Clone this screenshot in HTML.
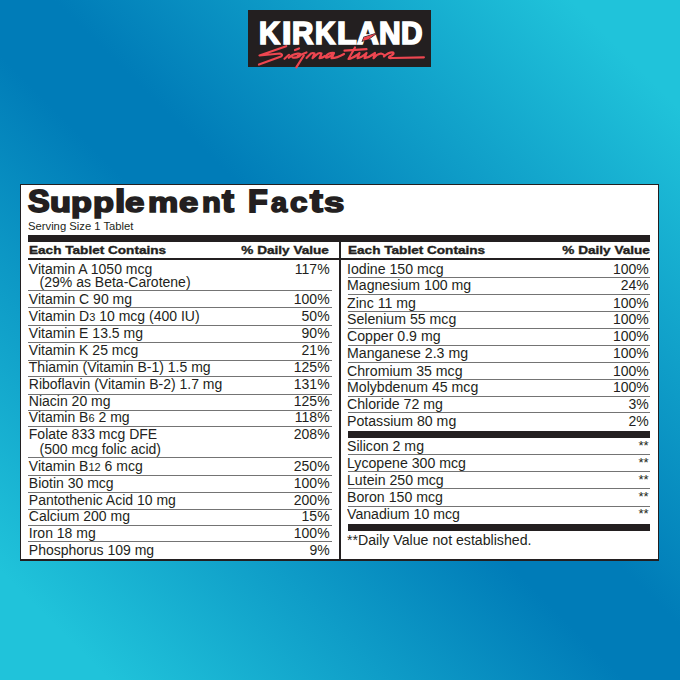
<!DOCTYPE html>
<html><head><meta charset="utf-8"><style>
html,body{margin:0;padding:0;width:680px;height:680px;overflow:hidden}
body{position:relative;background:linear-gradient(45deg,#20c3da 0%,#20c3da 8%,#007cb8 46%,#007cb8 54%,#20c3da 92%,#20c3da 100%);font-family:"Liberation Sans",sans-serif;color:#231f20}
.t{position:absolute;white-space:pre;line-height:1}
.r{position:absolute}
</style></head><body>

<div class="r" style="left:248px;top:10px;width:183px;height:57px;background:#231f20"></div>
<div class="t" style="left:259.09px;top:18.28px;font-size:30.5px;font-weight:bold;color:#fff;-webkit-text-stroke:1.7px #fff;transform:scaleX(0.954);transform-origin:0 0">K</div>
<div class="t" style="left:281.85px;top:18.28px;font-size:30.5px;font-weight:bold;color:#fff;-webkit-text-stroke:1.7px #fff;transform:scaleX(1.108);transform-origin:0 0">I</div>
<div class="t" style="left:291.68px;top:18.28px;font-size:30.5px;font-weight:bold;color:#fff;-webkit-text-stroke:1.7px #fff;transform:scaleX(0.973);transform-origin:0 0">R</div>
<div class="t" style="left:315.32px;top:18.28px;font-size:30.5px;font-weight:bold;color:#fff;-webkit-text-stroke:1.7px #fff;transform:scaleX(0.923);transform-origin:0 0">K</div>
<div class="t" style="left:337.30px;top:18.28px;font-size:30.5px;font-weight:bold;color:#fff;-webkit-text-stroke:1.7px #fff;transform:scaleX(1.055);transform-origin:0 0">L</div>
<div class="t" style="left:357.28px;top:18.28px;font-size:30.5px;font-weight:bold;color:#fff;-webkit-text-stroke:1.7px #fff;transform:scaleX(0.986);transform-origin:0 0">A</div>
<div class="t" style="left:378.57px;top:18.28px;font-size:30.5px;font-weight:bold;color:#fff;-webkit-text-stroke:1.7px #fff;transform:scaleX(0.983);transform-origin:0 0">N</div>
<div class="t" style="left:401.37px;top:18.28px;font-size:30.5px;font-weight:bold;color:#fff;-webkit-text-stroke:1.7px #fff;transform:scaleX(0.977);transform-origin:0 0">D</div>
<svg class="r" style="left:0;top:0" width="680" height="80" viewBox="0 0 680 80">
<g fill="none" stroke="#ee4650" stroke-width="2.2" stroke-linecap="round" stroke-linejoin="round">
<path d="M286.2,46.2 L259.5,55.5 L280,53.5 Q283.5,54.5 281,56.5 L259,64.5"/>
<path d="M284.5,58.8 L289,54.8"/>
<path d="M295,50 L299,48.4"/>
<path d="M288.8,57.8 Q293,54 297.7,53.7 Q302,53.4 299.5,56.3 Q296,58.2 292.5,57.5"/>
<path d="M297.7,56 L306.5,52.4"/>
<path d="M303.8,55.5 L296.3,67.4"/>
<path d="M306.5,58 L311,53.5 Q313,52.5 314.5,53.5 L312.5,58.2 L318,53.5 Q320,52.5 321.5,53.5 L319.5,58.2 Q322,58 325,56"/>
<path d="M334,53 Q328.5,52.5 325.8,56.5 Q325.5,59 330.5,56 L334,53 L331.5,58.2 Q337,58 344,54"/>
<path d="M355,47.5 L348.5,59 Q352,58.5 357,55"/>
<path d="M344.5,50.6 L366.5,49.2"/>
<path d="M357,55 L359.5,53 L357.5,58.2 Q361,58 366.5,53 L364.5,58.2 Q368,58 372,55"/>
<path d="M372,55 L375,53 L373.5,58.2 Q377,54 381,53.5 Q383,54 384,55"/>
<path d="M384,56.5 Q389,52 393,52.5 Q395,54 389.5,56.5 Q387.5,58.5 392,58 L423.9,57.3"/>
</g>
<path d="M362.5,41 L364,37.2 L376.5,33.2 L368.5,39.3 Z" fill="#ee4650" stroke="#231f20" stroke-width="1.2" paint-order="stroke"/>
</svg>

<div class="r" style="left:20px;top:184px;width:637px;height:374px;background:#fff;border:1px solid #231f20;border-bottom-width:2px"></div>
<div class="t" style="left:27.90px;top:185.98px;font-size:30.5px;font-weight:bold;-webkit-text-stroke:1.8px #231f20;transform:scale(1.067,1.0);transform-origin:0 25.82px">S</div>
<div class="t" style="left:50.17px;top:185.98px;font-size:30.5px;font-weight:bold;-webkit-text-stroke:1.8px #231f20;transform:scale(1.127,0.88);transform-origin:0 25.82px">u</div>
<div class="t" style="left:71.16px;top:185.98px;font-size:30.5px;font-weight:bold;-webkit-text-stroke:1.8px #231f20;transform:scale(1.121,0.88);transform-origin:0 25.82px">p</div>
<div class="t" style="left:93.15px;top:185.98px;font-size:30.5px;font-weight:bold;-webkit-text-stroke:1.8px #231f20;transform:scale(1.127,0.88);transform-origin:0 25.82px">p</div>
<div class="t" style="left:115.06px;top:185.98px;font-size:30.5px;font-weight:bold;-webkit-text-stroke:1.8px #231f20;transform:scale(1.220,1.0);transform-origin:0 25.82px">l</div>
<div class="t" style="left:125.16px;top:185.98px;font-size:30.5px;font-weight:bold;-webkit-text-stroke:1.8px #231f20;transform:scale(1.142,0.88);transform-origin:0 25.82px">e</div>
<div class="t" style="left:147.99px;top:185.98px;font-size:30.5px;font-weight:bold;-webkit-text-stroke:1.8px #231f20;transform:scale(1.114,0.88);transform-origin:0 25.82px">m</div>
<div class="t" style="left:178.86px;top:185.98px;font-size:30.5px;font-weight:bold;-webkit-text-stroke:1.8px #231f20;transform:scale(1.135,0.88);transform-origin:0 25.82px">e</div>
<div class="t" style="left:201.89px;top:185.98px;font-size:30.5px;font-weight:bold;-webkit-text-stroke:1.8px #231f20;transform:scale(1.012,0.88);transform-origin:0 25.82px">n</div>
<div class="t" style="left:222.30px;top:185.98px;font-size:30.5px;font-weight:bold;-webkit-text-stroke:1.8px #231f20;transform:scale(1.171,1.0);transform-origin:0 25.82px">t</div>
<div class="t" style="left:248.04px;top:185.98px;font-size:30.5px;font-weight:bold;-webkit-text-stroke:1.8px #231f20;transform:scale(1.057,1.0);transform-origin:0 25.82px">F</div>
<div class="t" style="left:271.20px;top:185.98px;font-size:30.5px;font-weight:bold;-webkit-text-stroke:1.8px #231f20;transform:scale(0.951,0.88);transform-origin:0 25.82px">a</div>
<div class="t" style="left:290.37px;top:185.98px;font-size:30.5px;font-weight:bold;-webkit-text-stroke:1.8px #231f20;transform:scale(1.026,0.88);transform-origin:0 25.82px">c</div>
<div class="t" style="left:310.00px;top:185.98px;font-size:30.5px;font-weight:bold;-webkit-text-stroke:1.8px #231f20;transform:scale(1.257,1.0);transform-origin:0 25.82px">t</div>
<div class="t" style="left:323.81px;top:185.98px;font-size:30.5px;font-weight:bold;-webkit-text-stroke:1.8px #231f20;transform:scale(1.194,0.88);transform-origin:0 25.82px">s</div>
<div class="t" style="left:28.20px;top:220.57px;font-size:11.5px;font-weight:normal;transform:scaleX(0.978);transform-origin:0 0;">Serving Size 1 Tablet</div>
<div class="r" style="left:28px;top:235px;width:622px;height:7px;background:#231f20;"></div>
<div class="t" style="left:28.80px;top:245.19px;font-size:11px;font-weight:bold;transform:scaleX(1.235);transform-origin:0 0;-webkit-text-stroke:0.35px #231f20;">Each Tablet Contains</div>
<div class="t" style="right:350.70px;top:245.19px;font-size:11px;font-weight:bold;text-align:right;transform:scaleX(1.235);transform-origin:100% 0;-webkit-text-stroke:0.35px #231f20;">% Daily Value</div>
<div class="t" style="left:347.80px;top:245.19px;font-size:11px;font-weight:bold;transform:scaleX(1.235);transform-origin:0 0;-webkit-text-stroke:0.35px #231f20;">Each Tablet Contains</div>
<div class="t" style="right:29.70px;top:245.19px;font-size:11px;font-weight:bold;text-align:right;transform:scaleX(1.235);transform-origin:100% 0;-webkit-text-stroke:0.35px #231f20;">% Daily Value</div>
<div class="r" style="left:28px;top:258px;width:622px;height:2px;background:#231f20;"></div>
<div class="r" style="left:339px;top:241px;width:2px;height:318px;background:#231f20;"></div>
<div class="t" style="left:28.80px;top:262.35px;font-size:14px;font-weight:normal;transform:scaleX(1.0);transform-origin:0 0;">Vitamin A 1050 mcg</div>
<div class="t" style="left:39.60px;top:275.05px;font-size:14px;font-weight:normal;transform:scaleX(1.0);transform-origin:0 0;">(29% as Beta-Carotene)</div>
<div class="t" style="right:350.40px;top:262.35px;font-size:14px;font-weight:normal;text-align:right;transform:scaleX(1.0);transform-origin:100% 0;">117%</div>
<div class="t" style="left:28.80px;top:291.85px;font-size:14px;font-weight:normal;transform:scaleX(1.0);transform-origin:0 0;">Vitamin C 90 mg</div>
<div class="t" style="right:350.40px;top:291.85px;font-size:14px;font-weight:normal;text-align:right;transform:scaleX(1.0);transform-origin:100% 0;">100%</div>
<div class="t" style="left:28.80px;top:308.95px;font-size:14px;font-weight:normal;transform:scaleX(1.0);transform-origin:0 0;">Vitamin D<span style="font-size:11px">3</span> 10 mcg (400 IU)</div>
<div class="t" style="right:350.40px;top:308.95px;font-size:14px;font-weight:normal;text-align:right;transform:scaleX(1.0);transform-origin:100% 0;">50%</div>
<div class="t" style="left:28.80px;top:326.35px;font-size:14px;font-weight:normal;transform:scaleX(1.0);transform-origin:0 0;">Vitamin E 13.5 mg</div>
<div class="t" style="right:350.40px;top:326.35px;font-size:14px;font-weight:normal;text-align:right;transform:scaleX(1.0);transform-origin:100% 0;">90%</div>
<div class="t" style="left:28.80px;top:343.25px;font-size:14px;font-weight:normal;transform:scaleX(1.0);transform-origin:0 0;">Vitamin K 25 mcg</div>
<div class="t" style="right:350.40px;top:343.25px;font-size:14px;font-weight:normal;text-align:right;transform:scaleX(1.0);transform-origin:100% 0;">21%</div>
<div class="t" style="left:28.80px;top:359.75px;font-size:14px;font-weight:normal;transform:scaleX(1.0);transform-origin:0 0;">Thiamin (Vitamin B-1) 1.5 mg</div>
<div class="t" style="right:350.40px;top:359.75px;font-size:14px;font-weight:normal;text-align:right;transform:scaleX(1.0);transform-origin:100% 0;">125%</div>
<div class="t" style="left:28.80px;top:376.65px;font-size:14px;font-weight:normal;transform:scaleX(1.0);transform-origin:0 0;">Riboflavin (Vitamin B-2) 1.7 mg</div>
<div class="t" style="right:350.40px;top:376.65px;font-size:14px;font-weight:normal;text-align:right;transform:scaleX(1.0);transform-origin:100% 0;">131%</div>
<div class="t" style="left:28.80px;top:393.55px;font-size:14px;font-weight:normal;transform:scaleX(1.0);transform-origin:0 0;">Niacin 20 mg</div>
<div class="t" style="right:350.40px;top:393.55px;font-size:14px;font-weight:normal;text-align:right;transform:scaleX(1.0);transform-origin:100% 0;">125%</div>
<div class="t" style="left:28.80px;top:410.45px;font-size:14px;font-weight:normal;transform:scaleX(1.0);transform-origin:0 0;">Vitamin B<span style="font-size:11px">6</span> 2 mg</div>
<div class="t" style="right:350.40px;top:410.45px;font-size:14px;font-weight:normal;text-align:right;transform:scaleX(1.0);transform-origin:100% 0;">118%</div>
<div class="t" style="left:28.80px;top:427.45px;font-size:14px;font-weight:normal;transform:scaleX(1.0);transform-origin:0 0;">Folate 833 mcg DFE</div>
<div class="t" style="left:39.60px;top:442.25px;font-size:14px;font-weight:normal;transform:scaleX(1.0);transform-origin:0 0;">(500 mcg folic acid)</div>
<div class="t" style="right:350.40px;top:427.45px;font-size:14px;font-weight:normal;text-align:right;transform:scaleX(1.0);transform-origin:100% 0;">208%</div>
<div class="t" style="left:28.80px;top:459.15px;font-size:14px;font-weight:normal;transform:scaleX(1.0);transform-origin:0 0;">Vitamin B<span style="font-size:11px">12</span> 6 mcg</div>
<div class="t" style="right:350.40px;top:459.15px;font-size:14px;font-weight:normal;text-align:right;transform:scaleX(1.0);transform-origin:100% 0;">250%</div>
<div class="t" style="left:28.80px;top:475.95px;font-size:14px;font-weight:normal;transform:scaleX(1.0);transform-origin:0 0;">Biotin 30 mcg</div>
<div class="t" style="right:350.40px;top:475.95px;font-size:14px;font-weight:normal;text-align:right;transform:scaleX(1.0);transform-origin:100% 0;">100%</div>
<div class="t" style="left:28.80px;top:492.65px;font-size:14px;font-weight:normal;transform:scaleX(1.0);transform-origin:0 0;">Pantothenic Acid 10 mg</div>
<div class="t" style="right:350.40px;top:492.65px;font-size:14px;font-weight:normal;text-align:right;transform:scaleX(1.0);transform-origin:100% 0;">200%</div>
<div class="t" style="left:28.80px;top:509.15px;font-size:14px;font-weight:normal;transform:scaleX(1.0);transform-origin:0 0;">Calcium 200 mg</div>
<div class="t" style="right:350.40px;top:509.15px;font-size:14px;font-weight:normal;text-align:right;transform:scaleX(1.0);transform-origin:100% 0;">15%</div>
<div class="t" style="left:28.80px;top:525.85px;font-size:14px;font-weight:normal;transform:scaleX(1.0);transform-origin:0 0;">Iron 18 mg</div>
<div class="t" style="right:350.40px;top:525.85px;font-size:14px;font-weight:normal;text-align:right;transform:scaleX(1.0);transform-origin:100% 0;">100%</div>
<div class="t" style="left:28.80px;top:542.85px;font-size:14px;font-weight:normal;transform:scaleX(1.0);transform-origin:0 0;">Phosphorus 109 mg</div>
<div class="t" style="right:350.40px;top:542.85px;font-size:14px;font-weight:normal;text-align:right;transform:scaleX(1.0);transform-origin:100% 0;">9%</div>
<div class="r" style="left:28px;top:290px;width:304px;height:1px;background:#747474;"></div>
<div class="r" style="left:28px;top:307px;width:304px;height:1px;background:#747474;"></div>
<div class="r" style="left:28px;top:325px;width:304px;height:1px;background:#747474;"></div>
<div class="r" style="left:28px;top:342px;width:304px;height:1px;background:#747474;"></div>
<div class="r" style="left:28px;top:360px;width:304px;height:1px;background:#747474;"></div>
<div class="r" style="left:28px;top:376px;width:304px;height:1px;background:#747474;"></div>
<div class="r" style="left:28px;top:394px;width:304px;height:1px;background:#747474;"></div>
<div class="r" style="left:28px;top:410px;width:304px;height:1px;background:#747474;"></div>
<div class="r" style="left:28px;top:426px;width:304px;height:1px;background:#747474;"></div>
<div class="r" style="left:28px;top:457px;width:304px;height:1px;background:#747474;"></div>
<div class="r" style="left:28px;top:475px;width:304px;height:1px;background:#747474;"></div>
<div class="r" style="left:28px;top:492px;width:304px;height:1px;background:#747474;"></div>
<div class="r" style="left:28px;top:509px;width:304px;height:1px;background:#747474;"></div>
<div class="r" style="left:28px;top:525px;width:304px;height:1px;background:#747474;"></div>
<div class="r" style="left:28px;top:541px;width:304px;height:1px;background:#747474;"></div>
<div class="t" style="left:346.90px;top:262.05px;font-size:14px;font-weight:normal;transform:scaleX(1.01);transform-origin:0 0;">Iodine 150 mcg</div>
<div class="t" style="right:31.20px;top:262.05px;font-size:14px;font-weight:normal;text-align:right;transform:scaleX(1.0);transform-origin:100% 0;">100%</div>
<div class="t" style="left:346.90px;top:278.35px;font-size:14px;font-weight:normal;transform:scaleX(1.01);transform-origin:0 0;">Magnesium 100 mg</div>
<div class="t" style="right:31.20px;top:278.35px;font-size:14px;font-weight:normal;text-align:right;transform:scaleX(1.0);transform-origin:100% 0;">24%</div>
<div class="t" style="left:346.90px;top:295.55px;font-size:14px;font-weight:normal;transform:scaleX(1.01);transform-origin:0 0;">Zinc 11 mg</div>
<div class="t" style="right:31.20px;top:295.55px;font-size:14px;font-weight:normal;text-align:right;transform:scaleX(1.0);transform-origin:100% 0;">100%</div>
<div class="t" style="left:346.90px;top:312.45px;font-size:14px;font-weight:normal;transform:scaleX(1.01);transform-origin:0 0;">Selenium 55 mcg</div>
<div class="t" style="right:31.20px;top:312.45px;font-size:14px;font-weight:normal;text-align:right;transform:scaleX(1.0);transform-origin:100% 0;">100%</div>
<div class="t" style="left:346.90px;top:329.35px;font-size:14px;font-weight:normal;transform:scaleX(1.01);transform-origin:0 0;">Copper 0.9 mg</div>
<div class="t" style="right:31.20px;top:329.35px;font-size:14px;font-weight:normal;text-align:right;transform:scaleX(1.0);transform-origin:100% 0;">100%</div>
<div class="t" style="left:346.90px;top:346.15px;font-size:14px;font-weight:normal;transform:scaleX(1.01);transform-origin:0 0;">Manganese 2.3 mg</div>
<div class="t" style="right:31.20px;top:346.15px;font-size:14px;font-weight:normal;text-align:right;transform:scaleX(1.0);transform-origin:100% 0;">100%</div>
<div class="t" style="left:346.90px;top:363.55px;font-size:14px;font-weight:normal;transform:scaleX(1.01);transform-origin:0 0;">Chromium 35 mcg</div>
<div class="t" style="right:31.20px;top:363.55px;font-size:14px;font-weight:normal;text-align:right;transform:scaleX(1.0);transform-origin:100% 0;">100%</div>
<div class="t" style="left:346.90px;top:380.05px;font-size:14px;font-weight:normal;transform:scaleX(1.01);transform-origin:0 0;">Molybdenum 45 mcg</div>
<div class="t" style="right:31.20px;top:380.05px;font-size:14px;font-weight:normal;text-align:right;transform:scaleX(1.0);transform-origin:100% 0;">100%</div>
<div class="t" style="left:346.90px;top:397.05px;font-size:14px;font-weight:normal;transform:scaleX(1.01);transform-origin:0 0;">Chloride 72 mg</div>
<div class="t" style="right:31.20px;top:397.05px;font-size:14px;font-weight:normal;text-align:right;transform:scaleX(1.0);transform-origin:100% 0;">3%</div>
<div class="t" style="left:346.90px;top:413.85px;font-size:14px;font-weight:normal;transform:scaleX(1.01);transform-origin:0 0;">Potassium 80 mg</div>
<div class="t" style="right:31.20px;top:413.85px;font-size:14px;font-weight:normal;text-align:right;transform:scaleX(1.0);transform-origin:100% 0;">2%</div>
<div class="r" style="left:348px;top:277px;width:302px;height:1px;background:#747474;"></div>
<div class="r" style="left:348px;top:294px;width:302px;height:1px;background:#747474;"></div>
<div class="r" style="left:348px;top:311px;width:302px;height:1px;background:#747474;"></div>
<div class="r" style="left:348px;top:328px;width:302px;height:1px;background:#747474;"></div>
<div class="r" style="left:348px;top:345px;width:302px;height:1px;background:#747474;"></div>
<div class="r" style="left:348px;top:362px;width:302px;height:1px;background:#747474;"></div>
<div class="r" style="left:348px;top:379px;width:302px;height:1px;background:#747474;"></div>
<div class="r" style="left:348px;top:396px;width:302px;height:1px;background:#747474;"></div>
<div class="r" style="left:348px;top:412px;width:302px;height:1px;background:#747474;"></div>
<div class="r" style="left:348px;top:431px;width:302px;height:7px;background:#231f20;"></div>
<div class="t" style="left:346.90px;top:439.35px;font-size:14px;font-weight:normal;transform:scaleX(1.01);transform-origin:0 0;">Silicon 2 mg</div>
<div class="t" style="right:31.40px;top:439.40px;font-size:13px;font-weight:normal;text-align:right;">**</div>
<div class="t" style="left:346.90px;top:456.25px;font-size:14px;font-weight:normal;transform:scaleX(1.01);transform-origin:0 0;">Lycopene 300 mcg</div>
<div class="t" style="right:31.40px;top:456.30px;font-size:13px;font-weight:normal;text-align:right;">**</div>
<div class="t" style="left:346.90px;top:473.15px;font-size:14px;font-weight:normal;transform:scaleX(1.01);transform-origin:0 0;">Lutein 250 mcg</div>
<div class="t" style="right:31.40px;top:473.20px;font-size:13px;font-weight:normal;text-align:right;">**</div>
<div class="t" style="left:346.90px;top:490.05px;font-size:14px;font-weight:normal;transform:scaleX(1.01);transform-origin:0 0;">Boron 150 mcg</div>
<div class="t" style="right:31.40px;top:490.10px;font-size:13px;font-weight:normal;text-align:right;">**</div>
<div class="t" style="left:346.90px;top:507.25px;font-size:14px;font-weight:normal;transform:scaleX(1.01);transform-origin:0 0;">Vanadium 10 mcg</div>
<div class="t" style="right:31.40px;top:507.30px;font-size:13px;font-weight:normal;text-align:right;">**</div>
<div class="r" style="left:348px;top:454px;width:302px;height:1px;background:#747474;"></div>
<div class="r" style="left:348px;top:471px;width:302px;height:1px;background:#747474;"></div>
<div class="r" style="left:348px;top:488px;width:302px;height:1px;background:#747474;"></div>
<div class="r" style="left:348px;top:506px;width:302px;height:1px;background:#747474;"></div>
<div class="r" style="left:348px;top:524px;width:302px;height:7px;background:#231f20;"></div>
<div class="t" style="left:347.30px;top:533.35px;font-size:14px;font-weight:normal;transform:scaleX(1.01);transform-origin:0 0;">**Daily Value not established.</div>
</body></html>
